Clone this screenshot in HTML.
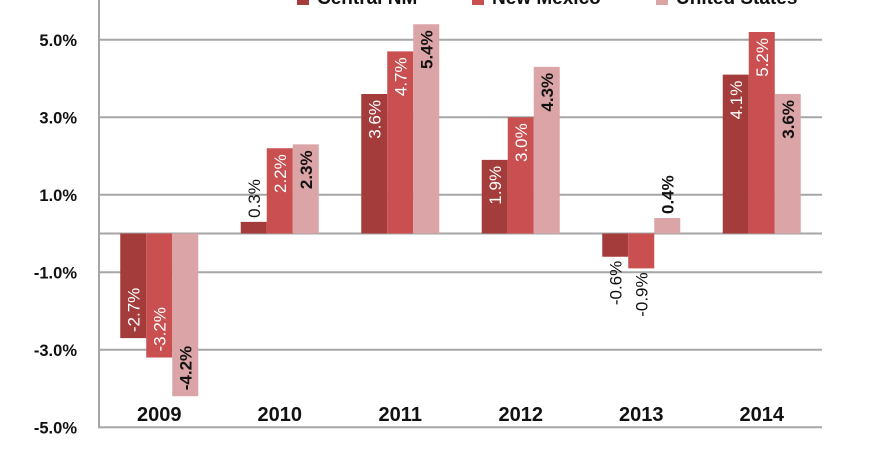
<!DOCTYPE html>
<html><head><meta charset="utf-8"><style>
body{margin:0;background:#fff;}
svg{display:block;font-family:"Liberation Sans",sans-serif;}
</style></head><body>
<svg id="chart" width="887" height="453" viewBox="0 0 887 453"></svg>
<script>
const categories = ["2009","2010","2011","2012","2013","2014"];
const centralNM = [-2.7,0.3,3.6,1.9,-0.6,4.1];
const newMexico = [-3.2,2.2,4.7,3.0,-0.9,5.2];
const unitedStates = [-4.2,2.3,5.4,4.3,0.4,3.6];
const yTicks = [5,3,1,-1,-3,-5];
const seriesNames = ["Central NM","New Mexico","United States"];

const NS="http://www.w3.org/2000/svg";
const svg=document.getElementById('chart');
const X0=99,X1=822,Y0=233.5,PX=38.75;
const y=v=>Y0-v*PX;
const gw=(X1-X0)/categories.length;
const bw=26;
const xb=(i,s)=>X0+gw*i+gw/2-39+s*bw;
function mk(t,a,txt){const e=document.createElementNS(NS,t);for(const k in a)e.setAttribute(k,a[k]);if(txt!==undefined)e.textContent=txt;svg.appendChild(e);return e;}

yTicks.forEach(t=>{
  const g=mk('line',{x1:X0,x2:X1,y1:y(t),y2:y(t),stroke:'#a6a6a6','stroke-width':2});
  
  
  const l=mk('text',{x:77,y:y(t)+6,'text-anchor':'end','font-size':16.5,'font-weight':'bold',fill:'#111'},t.toFixed(1)+'%');
  
  
});
const z=mk('line',{x1:X0,x2:X1,y1:Y0,y2:Y0,stroke:'#a6a6a6','stroke-width':2});


const ax=mk('line',{x1:X0,x2:X0,y1:0,y2:y(-5)+1,stroke:'#a6a6a6','stroke-width':2});



const series=[centralNM,newMexico,unitedStates];
const colors=['#a53c3c','#c94f50','#dba4a6'];
series.forEach((arr,s)=>{
  arr.forEach((v,i)=>{
    const x=xb(i,s),top=Math.min(y(v),Y0),h=Math.abs(y(v)-Y0);
    const r=mk('rect',{x:x,y:top,width:bw,height:h,fill:colors[s]});
    
    
    const txt=v.toFixed(1)+'%';
    const inside=h>48;
    let ty,anchor,fill,weight=(s===2)?'bold':'normal';
    if(v>=0){ty=inside?y(v)+6:y(v)-4;anchor=inside?'end':'start';}
    else{ty=inside?y(v)-6:y(v)+4;anchor=inside?'start':'end';}
    fill=(inside&&s<2)?'#fff':'#111';
    const t=mk('text',{x:x+bw/2,y:ty,'text-anchor':anchor,'font-size':17,'font-weight':weight,fill:fill},txt);
    t.setAttribute('transform',`rotate(-90 ${x+bw/2} ${ty}) translate(0 6)`);
    
    
  });
});
categories.forEach((c,i)=>{
  const t=mk('text',{x:X0+gw*i+gw/2,y:421,'text-anchor':'middle','font-size':20,'font-weight':'bold',fill:'#111'},c);
  
  
});
const legX=[297,472,656];
seriesNames.forEach((n,s)=>{
  const r=mk('rect',{x:legX[s],y:-8,width:12,height:13,fill:colors[s]});
  
  
  const t=mk('text',{x:legX[s]+20,y:4,'font-size':19,'font-weight':'bold',fill:'#111'},n);
  
  
});
</script>
</body></html>
